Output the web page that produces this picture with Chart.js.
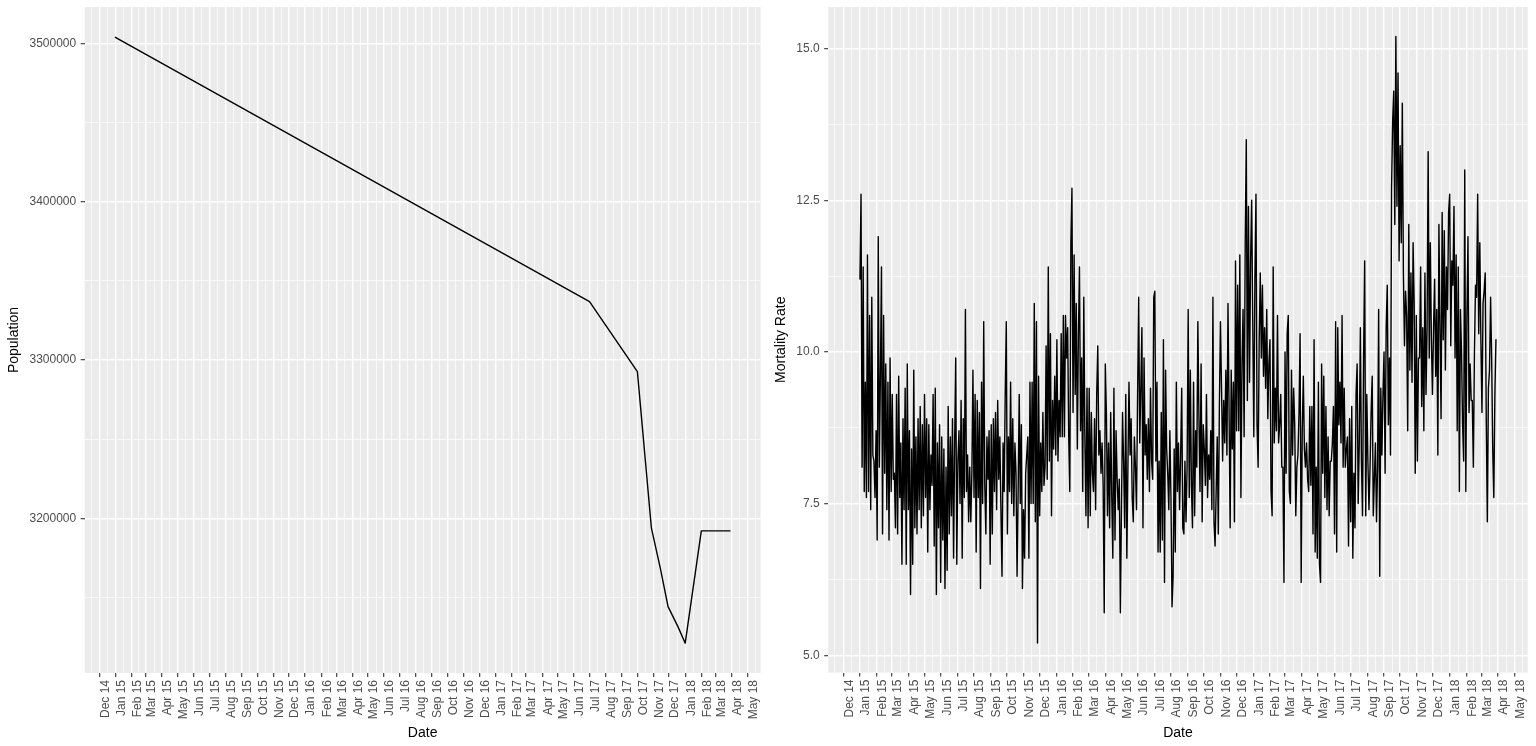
<!DOCTYPE html>
<html><head><meta charset="utf-8">
<script src="https://cdn.jsdelivr.net/npm/chart.js@4/dist/chart.umd.min.js"></script>
<style>
html,body{margin:0;padding:0;background:#fff;width:1536px;height:746px;overflow:hidden}
#wrapL{position:absolute;left:0;top:0;width:768px;height:746px}
#wrapR{position:absolute;left:768px;top:0;width:768px;height:746px}
canvas{display:block}
</style></head><body>
<div id="wrapL"><canvas id="cL" width="768" height="746"></canvas></div>
<div id="wrapR"><canvas id="cR" width="768" height="746"></canvas></div>
<script>
// ---------------- DATA ----------------
const monthTicks = ['2014-12-01','2015-01-01','2015-02-01','2015-03-01','2015-04-01','2015-05-01','2015-06-01',
  '2015-07-01','2015-08-01','2015-09-01','2015-10-01','2015-11-01','2015-12-01','2016-01-01','2016-02-01',
  '2016-03-01','2016-04-01','2016-05-01','2016-06-01','2016-07-01','2016-08-01','2016-09-01','2016-10-01',
  '2016-11-01','2016-12-01','2017-01-01','2017-02-01','2017-03-01','2017-04-01','2017-05-01','2017-06-01',
  '2017-07-01','2017-08-01','2017-09-01','2017-10-01','2017-11-01','2017-12-01','2018-01-01','2018-02-01',
  '2018-03-01','2018-04-01','2018-05-01'];
const monthNames = ['Jan','Feb','Mar','Apr','May','Jun','Jul','Aug','Sep','Oct','Nov','Dec'];

const popDates  = ['2015-01-01','2017-07-01','2017-10-01','2017-10-28','2017-11-14','2017-11-29','2017-12-18','2018-01-01','2018-02-01','2018-03-28'];
const popValues = [3503790, 3336870, 3292680, 3193810, 3168750, 3144320, 3131690, 3121210, 3192110, 3192110];
const popTicks = [3200000, 3300000, 3400000, 3500000];
const popMinorTicks = [3150000, 3250000, 3350000, 3450000];

const mortalityStart = '2015-01-01';
const mortalityStepDays = 2;
const mortalityRate = [
 11.2,12.6,8.1,11.4,7.7,9.5,7.6, 11.6,7.7,10.6,7.4,10.9,8.3, 8.2,7.6,8.7,6.9,11.9,8.1, 9.6,11.4,7.0,10.6,8.0,9.8,
 7.4,9.5,6.9,9.9,7.7,9.3,7.9, 8.0,7.1,9.3,7.0,9.6,7.6, 8.5,6.5,8.9,7.4,9.4,6.5, 9.8,7.4,8.7,6.0,8.4,6.5,
 9.7,7.1,8.6,7.0,8.9,7.4, 9.1,7.1,8.8,7.3,9.3,7.6, 8.9,6.7,8.8,7.4,8.3,7.8, 9.3,6.8,9.4,6.0,8.5,7.1,
 8.8,6.2,8.6,6.9,8.4,6.1, 8.1,6.4,9.1,7.0,8.6,7.3, 8.9,6.6,8.5,9.9,6.5,8.2, 8.7,7.5,9.2,6.6,8.9,7.6,
 10.7,7.7,8.3,7.2,8.1,7.2, 8.0,9.7,7.6,9.3,6.7,9.2, 7.6,9.0,6.1,9.5,7.5,10.5,7.8, 7.0,8.6,7.9,8.7,6.5,8.8,
 7.0,8.9,7.7,9.0,7.4,9.2,7.9,
 8.6,7.4,6.3,8.5,7.7,9.3, 10.5,7.0,8.6,7.7,9.5,7.5, 8.9,7.3,8.5,8.0,6.3,7.7, 9.3,7.5,8.8,6.1,7.4,6.6,
 8.0,8.3,8.6,6.6,9.5,7.5, 9.5,7.5,10.8,7.2,10.5,5.2,9.6, 7.3,8.5,7.7,9.0,7.8,8.1, 10.1,7.9,11.4,8.2,10.3,7.3,
 9.2,8.4,9.6,8.3,10.2,8.2, 9.2,8.6,10.3,8.6,10.6,8.6, 10.6,9.9,10.4,8.6,7.7,11.8,12.7, 9.0,11.6,9.3,10.8,8.4,10.3,
 11.4,8.7,9.9,7.7,10.9,8.6, 7.3,9.4,7.1,9.4,7.3,9.0,8.0, 7.7,8.9,7.4,9.3,10.1,8.3, 8.7,8.0,8.5,7.8,5.7,9.8,
 9.0,7.3,8.5,7.1,9.0,7.6, 6.6,9.4,6.9,8.7,7.9,7.4, 7.9,5.7,7.4,9.0,8.2,7.1, 9.3,6.6,8.1,9.5,8.3,8.9,7.6,
 7.2,8.6,8.1,7.4,9.3,10.9, 8.5,9.4,10.4,7.1,9.9,8.3, 8.8,7.9,8.9,7.7,9.4,8.2, 7.9,10.9,11.0,8.2,9.5,6.7,
 8.2,6.7,9.0,6.9,10.2,6.2,9.7,8.4,8.0,7.4,
 8.7,7.6,5.8,6.3,8.4,6.7,9.5, 7.7,8.5,7.4,8.3,9.4,7.1, 7.0,8.2,7.2,8.1,10.7,7.6, 9.7,7.8,7.1,9.5,7.3,8.7,
 8.1,10.5,8.9,7.7,9.8,7.2, 8.8,8.4,7.8,9.3,7.6,8.3, 7.9,8.7,7.4,10.9,7.2,6.8, 7.7,8.6,7.0,9.1,10.5,9.4,
 8.2,9.2,8.5,9.7,8.3,10.8, 9.0,7.1,9.7,8.4,9.5,7.2, 11.5,8.7,11.1,8.7,11.6,7.6, 9.8,10.7,8.6,11.8,13.5,9.2,12.4,
 9.5,11.5,12.5,10.5,8.6,11.2,12.6, 8.8,8.1,10.2,11.3,9.9,11.1, 9.6,10.4,9.4,10.7,8.9,9.8, 10.2,7.7,7.3,11.4,8.5,9.4,
 8.7,10.6,8.5,8.8,9.3,8.1, 8.1,6.2,10.0,8.0,10.3,10.6, 7.7,7.5,9.7,8.3,9.4,8.8, 7.3,8.1,8.3,9.0,10.3,6.2,
 8.7,9.6,8.4,8.1,8.5,7.9, 7.7,9.1,7.8,9.1,7.0,10.2, 6.7,8.1,6.6,9.5,6.5,6.2,9.8, 8.0,9.6,7.6,9.1,7.4,8.6,
 7.3,8.2,8.2,8.5,9.1,7.0,10.5,6.7,10.4,8.8,
 9.5,8.5,10.6,8.1,9.4,8.1, 8.4,8.6,6.8,8.9,7.2,9.1, 6.6,8.0,7.1,9.3,9.8,7.5, 8.5,10.4,8.2,7.3,9.9,11.5,
 7.3,9.3,8.2,7.4,8.1,9.0, 9.6,7.3,7.9,8.5,7.2,8.1, 10.7,6.3,9.4,8.3,9.3,10.0, 8.0,10.4,11.1,8.8,9.9,8.3,
 12.7,13.8,14.3,12.1,15.2,12.4,14.6,11.5,13.4, 11.8,14.1,11.3,10.1,11.0,10.6, 8.7,12.1,9.7,11.3,9.5,11.8,
 10.8,8.0,10.6,8.2,9.9,9.9, 11.4,9.1,10.4,8.7,11.3,9.3, 10.4,13.3,9.9,11.8,10.2,9.3, 10.4,11.2,9.6,10.7,8.3,12.1,
 10.4,8.9,12.3,10.2,12.0,9.7, 11.4,10.7,12.3,12.6,10.1,11.5, 11.1,12.4,9.9,11.6,8.7,11.4, 7.7,10.7,10.0,8.8,8.2,13.0,
 7.7,10.6,11.9,9.0,9.8,9.2, 9.2,8.1,10.0,11.1,10.9,12.6, 10.3,11.8,10.2,9.0,10.8,11.0,
 11.3,8.9,7.2,9.4,9.7,10.9,9.9,8.4,7.6,9.3,10.2
];
const rateTicks = [5, 7.5, 10, 12.5, 15];
const rateTickLabels = ['5.0', '7.5', '10.0', '12.5', '15.0'];
const rateMinorTicks = [6.25, 8.75, 11.25, 13.75];

// ---------------- HELPERS ----------------
const DAY = 86400000;
const FONT = "'Liberation Sans', Arial, Helvetica, sans-serif";
Chart.defaults.font.family = FONT;
function toMs(s){const p=s.split('-').map(Number);return Date.UTC(p[0],p[1]-1,p[2]);}
function fmtMonth(v){const d=new Date(v);return monthNames[d.getUTCMonth()]+' '+String(d.getUTCFullYear()%100).padStart(2,'0');}

function xTickObjects(min,max){
  const maj = monthTicks.map(toMs);
  const bd = maj[1]-maj[0];
  const out = [{value:maj[0]-bd/2,major:false}];
  for(let i=0;i<maj.length;i++){
    out.push({value:maj[i],major:true});
    if(i<maj.length-1) out.push({value:(maj[i]+maj[i+1])/2,major:false});
  }
  out.push({value:maj[maj.length-1]+bd/2,major:false});
  return out.filter(t=>t.value>=min&&t.value<=max);
}
function yTickObjects(majors,minors){
  return majors.map(v=>({value:v,major:true})).concat(minors.map(v=>({value:v,major:false}))).sort((a,b)=>a.value-b.value);
}

const bgPlugin = {id:'panelBg', beforeDraw(chart){
  const {ctx, chartArea:a} = chart;
  ctx.save(); ctx.fillStyle='#EBEBEB'; ctx.fillRect(a.left,a.top,a.right-a.left,a.bottom-a.top); ctx.restore();
}};

const gridOpts = {
  color:'#FFFFFF',
  lineWidth: c => (c.tick && c.tick.major) ? 1.4 : 0.7,
  drawTicks:true, tickLength:4,
  tickColor: c => (c.tick && c.tick.major) ? '#333333' : 'rgba(0,0,0,0)',
  tickWidth: 1.1
};

function makeChart(id, cfg){
  const xmin = toMs('2014-11-03'), xmax = toMs('2018-05-26');
  const xt = xTickObjects(xmin,xmax);
  const yt = yTickObjects(cfg.yMajors, cfg.yMinors);
  return new Chart(document.getElementById(id), {
    type:'line',
    data:{datasets:[{data:cfg.points, borderColor:'#000000', borderWidth:cfg.lineWidth, pointRadius:0,
      tension:0, fill:false, borderJoinStyle:'round', borderCapStyle:'round'}]},
    options:{
      responsive:false, animation:false, events:[],
      layout:{padding:{top:7, right:cfg.padRight, bottom:0, left:0}},
      plugins:{legend:{display:false}, tooltip:{enabled:false}, title:{display:false}},
      scales:{
        x:{type:'linear', min:xmin, max:xmax, bounds:'data',
          afterBuildTicks: s => { s.ticks = xt.map(t=>({value:t.value, major:t.major})); },
          afterFit: s => { s.height = cfg.xHeight; s.paddingLeft = 0; s.paddingRight = 0; },
          grid:gridOpts, border:{display:false},
          ticks:{autoSkip:false, minRotation:90, maxRotation:90, padding:3, labelOffset:6,
            color:'#4D4D4D', font:{size:12},
            callback:(v,i,t)=> t[i] && t[i].major ? fmtMonth(v) : ''},
          title:{display:true, text:'Date', color:'#000000', font:{size:14}, padding:{top:0,bottom:4.6}}
        },
        y:{type:'linear', min:cfg.yMin, max:cfg.yMax, bounds:'data',
          afterBuildTicks: s => { s.ticks = yt.map(t=>({value:t.value, major:t.major})); },
          afterFit: s => { s.width = cfg.yWidth; s.paddingTop = 0; s.paddingBottom = 0; },
          grid:gridOpts, border:{display:false},
          ticks:{padding:4.5, color:'#4D4D4D', font:{size:12},
            callback:(v,i,t)=> t[i] && t[i].major ? cfg.yLabel(v) : ''},
          title:{display:true, text:cfg.yTitle, color:'#000000', font:{size:14}, padding:{top:cfg.yTitlePad,bottom:0}}
        }
      }
    },
    plugins:[bgPlugin]
  });
}

const popPoints = popDates.map((d,i)=>({x:toMs(d), y:popValues[i]}));
const startMs = toMs(mortalityStart);
const ratePoints = mortalityRate.map((v,i)=>({x:startMs + i*mortalityStepDays*DAY, y:v}));

makeChart('cL', {points:popPoints, yMin:3102400, yMax:3522900, yMajors:popTicks, yMinors:popMinorTicks,
  yLabel:v=>String(v), yTitle:'Population', yTitlePad:5.6, yWidth:84.7, padRight:7.4, xHeight:73, lineWidth:1.4});
makeChart('cR', {points:ratePoints, yMin:4.715, yMax:15.686, yMajors:rateTicks, yMinors:rateMinorTicks,
  yLabel:v=>rateTickLabels[rateTicks.indexOf(v)], yTitle:'Mortality Rate', yTitlePad:5.1, yWidth:60.2, padRight:8.3, xHeight:73.5, lineWidth:1.4});
</script>
</body></html>
